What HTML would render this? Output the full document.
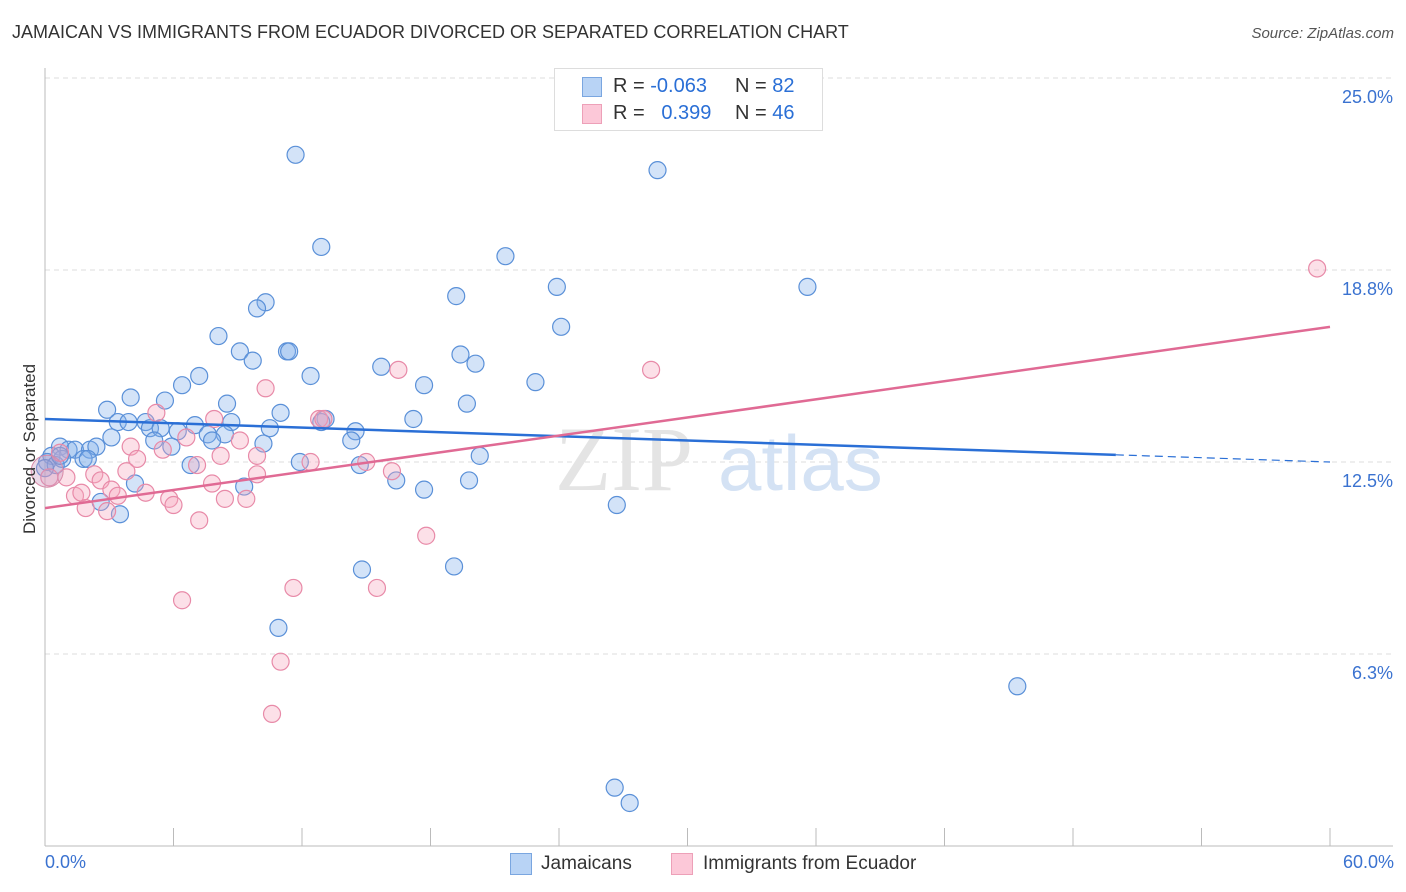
<!DOCTYPE html>
<html><head><meta charset="utf-8"><style>
body{margin:0;background:#fff;font-family:"Liberation Sans",sans-serif;}
#wrap{position:relative;width:1406px;height:892px;overflow:hidden}
.t{position:absolute;white-space:nowrap}
</style></head><body>
<div id="wrap">
<div class="t" style="left:12px;top:22px;font-size:18px;color:#333">JAMAICAN VS IMMIGRANTS FROM ECUADOR DIVORCED OR SEPARATED CORRELATION CHART</div>
<div class="t" style="right:12px;top:25px;font-size:15px;color:#555;font-style:italic">Source: ZipAtlas.com</div>
<svg id="svg" width="1406" height="892" style="position:absolute;left:0;top:0"></svg>
</div>
<script>
const blueX=[11.7,28.6,12.9,21.5,23.9,35.6,19.2,10.3,9.9,24.1,8.1,9.1,11.3,11.4,19.4,9.7,20.1,15.7,7.2,12.4,22.9,6.4,17.7,4.0,5.6,19.7,8.5,2.9,11.0,17.2,13.1,12.9,3.4,3.9,4.7,4.9,7.0,8.7,5.4,10.5,14.5,6.2,7.6,8.4,3.1,5.1,7.8,14.3,10.2,5.9,0.7,1.1,1.4,2.1,2.4,0.3,20.3,0.8,1.8,2.0,6.8,11.9,14.7,4.2,16.4,19.8,9.3,17.7,2.6,26.7,3.5,14.8,19.1,10.9,45.4,26.6,27.3,0.1,0.5,0.0,0.7];
const blueY=[22.5,22.0,19.5,19.2,18.2,18.2,17.9,17.7,17.5,16.9,16.6,16.1,16.1,16.1,16.0,15.8,15.7,15.6,15.3,15.3,15.1,15.0,15.0,14.6,14.5,14.4,14.4,14.2,14.1,13.9,13.9,13.8,13.8,13.8,13.8,13.6,13.7,13.8,13.6,13.6,13.5,13.5,13.4,13.4,13.3,13.2,13.2,13.2,13.1,13.0,13.0,12.9,12.9,12.9,13.0,12.7,12.7,12.6,12.6,12.6,12.4,12.5,12.4,11.8,11.9,11.9,11.7,11.6,11.2,11.1,10.8,9.0,9.1,7.1,5.2,1.9,1.4,12.5,12.4,12.3,12.7];
const pinkX=[59.4,28.3,16.5,10.3,5.2,7.9,12.8,13.0,6.6,9.1,4.0,5.5,0.7,15.0,12.4,7.1,4.3,8.2,9.9,3.8,16.2,2.3,2.6,9.9,0.2,1.0,7.8,3.1,4.7,1.4,1.7,3.4,8.4,9.4,5.8,1.9,6.0,2.9,7.2,17.8,11.6,15.5,6.4,11.0,10.6];
const pinkY=[18.8,15.5,15.5,14.9,14.1,13.9,13.9,13.9,13.3,13.2,13.0,12.9,12.8,12.5,12.5,12.4,12.6,12.7,12.7,12.2,12.2,12.1,11.9,12.1,12.0,12.0,11.8,11.6,11.5,11.4,11.5,11.4,11.3,11.3,11.3,11.0,11.1,10.9,10.6,10.1,8.4,8.4,8.0,6.0,4.3];
const yTicks=[25.0,18.8,12.5,6.3];
const yTickLabels=["25.0%","18.8%","12.5%","6.3%"];
const blueTrend=[13.9,12.5];
const pinkTrend=[11.0,16.9];
const NS="http://www.w3.org/2000/svg";
const svg=document.getElementById('svg');
const X=v=>45+v/60*1285, Y=v=>846-v*30.72;
function mk(t,a){const e=document.createElementNS(NS,t);for(const k in a)e.setAttribute(k,a[k]);svg.appendChild(e);return e;}
// gridlines
yTicks.forEach((v,i)=>{const yy=Y(v===18.8?18.75:v===6.3?6.25:v);
 const g=mk('line',{x1:45,x2:1393,y1:yy,y2:yy,stroke:'#ddd','stroke-dasharray':'5,4'});
 
 const t=mk('text',{x:1393,y:yy+25,'text-anchor':'end','font-size':18,fill:'#3a72d0','font-family':'Liberation Sans'});
 t.textContent=yTickLabels[i];});
const ax=mk('line',{x1:45,x2:45,y1:68,y2:846,stroke:'#bbb'});
const bx=mk('line',{x1:45,x2:1393,y1:846,y2:846,stroke:'#bbb'});
for(let i=0;i<=10;i++){const tk=mk('line',{x1:X(i*6),x2:X(i*6),y1:828,y2:846,stroke:'#bbb'});}
// watermark
const w=mk('text',{x:555,y:490,'font-size':92,fill:'#e4e4e4','font-family':'Liberation Serif'});w.textContent='ZIP';
const w2=mk('text',{x:718,y:490,'font-size':78,fill:'#d4e2f4','font-family':'Liberation Sans'});w2.textContent='atlas';
// points
blueX.forEach((v,i)=>{const c=mk('circle',{cx:X(v),cy:Y(blueY[i]),r:8.5,fill:'rgba(130,175,235,0.35)',stroke:'#5a90d8','stroke-width':1.2});});
pinkX.forEach((v,i)=>{const c=mk('circle',{cx:X(v),cy:Y(pinkY[i]),r:8.5,fill:'rgba(245,165,190,0.35)',stroke:'#e88aa8','stroke-width':1.2});});
const big=mk('circle',{cx:X(0.1),cy:Y(12.2),r:16,fill:'rgba(200,150,190,0.35)',stroke:'#d88aa8'});
// trends
const bm=blueTrend[0]+(blueTrend[1]-blueTrend[0])*50/60;
const l1=mk('line',{x1:X(0),y1:Y(blueTrend[0]),x2:X(50),y2:Y(bm),stroke:'#2a6fd6','stroke-width':2.5});
const l2=mk('line',{x1:X(50),y1:Y(bm),x2:X(60),y2:Y(blueTrend[1]),stroke:'#2a6fd6','stroke-width':1.2,'stroke-dasharray':'8,5'});
const l3=mk('line',{x1:X(0),y1:Y(pinkTrend[0]),x2:X(60),y2:Y(pinkTrend[1]),stroke:'#e06a94','stroke-width':2.5});
</script>
<div class="t" style="left:-50px;top:444px;width:160px;text-align:center;transform:rotate(-90deg);font-size:17px;color:#333">Divorced or Separated</div>
<div class="t" style="left:45px;top:852px;font-size:18px;color:#3a72d0">0.0%</div>
<div class="t" style="right:12px;top:852px;font-size:18px;color:#3a72d0">60.0%</div>
<div style="position:absolute;left:554px;top:68px;width:267px;height:61px;border:1px solid #ddd;background:#fff;font-size:20px;color:#333">
 <div style="position:absolute;left:27px;top:8px;width:18px;height:18px;background:#b8d3f5;border:1px solid #7aa6e0"></div>
 <div class="t" style="left:58px;top:6px">R = <span style="color:#2a6fd6">-0.063</span></div>
 <div class="t" style="left:180px;top:6px">N = <span style="color:#2a6fd6">82</span></div>
 <div style="position:absolute;left:27px;top:35px;width:18px;height:18px;background:#fcc8d8;border:1px solid #eda0b8"></div>
 <div class="t" style="left:58px;top:33px">R = &nbsp;&nbsp;<span style="color:#2a6fd6">0.399</span></div>
 <div class="t" style="left:180px;top:33px">N = <span style="color:#2a6fd6">46</span></div>
</div>
<div style="position:absolute;left:510px;top:853px;font-size:19px;color:#333">
 <div style="position:absolute;left:0;top:0;width:20px;height:20px;background:#b8d3f5;border:1px solid #7aa6e0"></div>
 <div class="t" style="left:31px;top:0">Jamaicans</div></div>
<div style="position:absolute;left:671px;top:853px;font-size:19px;color:#333">
 <div style="position:absolute;left:0;top:0;width:20px;height:20px;background:#fcc8d8;border:1px solid #eda0b8"></div>
 <div class="t" style="left:32px;top:0">Immigrants from Ecuador</div></div>
</body></html>
